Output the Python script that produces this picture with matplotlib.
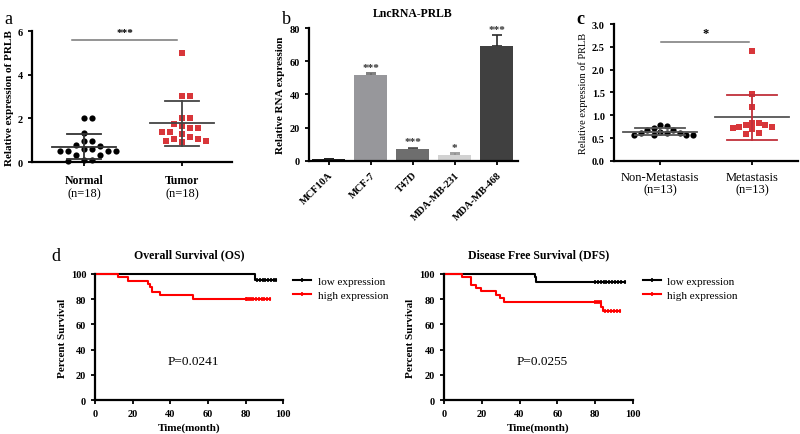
import numpy as np
import matplotlib
matplotlib.use("Agg")
import matplotlib.pyplot as plt
from matplotlib.lines import Line2D

plt.rcParams['font.family'] = ['Liberation Serif', 'DejaVu Serif']

# --- donnees panneau a ---
normal_vals = [2.0, 2.0, 1.35, 0.97, 0.97, 0.78, 0.74, 0.58, 0.58, 0.51, 0.51, 0.51, 0.51,
               0.32, 0.32, 0.08, 0.05, 0.08]
tumor_vals = [5.0, 3.04, 3.04, 2.04, 2.04, 1.74, 1.58, 1.58, 1.65, 1.4, 1.4, 1.27, 1.17,
              1.07, 1.07, 0.97, 0.97, 0.9]
groups_a = ["Normal", "Tumor"]
n_a = ["(n=18)", "(n=18)"]

# --- donnees panneau b ---
cell_lines = ["MCF10A", "MCF-7", "T47D", "MDA-MB-231", "MDA-MB-468"]
rna_expr = [1.0, 51.5, 7.0, 3.3, 69.5]
rna_err = [0.3, 1.3, 0.9, 1.5, 6.3]
rna_sig = ["", "***", "***", "*", "***"]

# --- donnees panneau c ---
nonmet_vals = [0.68, 0.60, 0.60, 0.56, 0.56, 0.56, 0.56, 0.60, 0.64, 0.68, 0.77, 0.72, 0.79]
met_vals = [2.41, 1.46, 1.17, 0.84, 0.78, 0.75, 0.69, 0.73, 0.59, 0.60, 0.75, 0.78, 0.84]
groups_c = ["Non-Metastasis", "Metastasis"]
n_c = ["(n=13)", "(n=13)"]

# --- donnees panneau d (Kaplan-Meier, marches) ---
os_low_t = [0, 85, 96]
os_low_s = [100, 95.5, 95.5]
os_low_cens = [86, 87.5, 89, 90.5, 92, 93.5, 95, 96]
os_high_t = [0, 12, 17.5, 28, 29.2, 30, 34.5, 52, 93]
os_high_s = [100, 97.9, 94.4, 92, 89.5, 86, 83.3, 80, 80]
os_high_cens = [80, 81, 82, 83, 84, 85.5, 87, 88.5, 90, 91.5, 93]
dfs_low_t = [0, 48, 48.9, 96]
dfs_low_s = [100, 97.3, 93.9, 93.9]
dfs_low_cens = [80, 81.5, 83, 84.5, 86, 87.5, 89, 90.5, 92, 93.5, 96]
dfs_high_t = [0, 9.7, 14.5, 16.8, 19.4, 27.7, 29.8, 32, 83.3, 84, 93]
dfs_high_s = [100, 97.3, 91.5, 88.9, 86.2, 83.5, 80.6, 77.5, 74, 71, 71]
dfs_high_cens = [80, 81, 82, 83, 85.5, 87, 88.5, 90, 91.5, 93]
p_os = "P=0.0241"
p_dfs = "P=0.0255"

RED = '#d8363a'
fig = plt.figure(figsize=(8, 4.35), dpi=100)


def style_axes(ax, lw=1.6):
    for s in ['top', 'right']:
        ax.spines[s].set_visible(False)
    for s in ['left', 'bottom']:
        ax.spines[s].set_linewidth(lw)
    ax.tick_params(width=1.3, length=3, labelsize=7.5)
    for lab in ax.get_yticklabels():
        lab.set_fontweight('bold')


def swarm(vals, ax, d_px=8.0):
    # disposition en essaim simple : decalages horizontaux sans chevauchement
    x0, y0 = ax.transData.transform((0, 0))
    x1, y1 = ax.transData.transform((1, 1))
    ppx, ppy = x1 - x0, y1 - y0
    order = np.argsort(vals)[::-1]
    offs = np.zeros(len(vals))
    placed = []
    for i in order:
        yp = vals[i] * ppy
        k = 0
        while True:
            c = ((k + 1) // 2) * (1 if k % 2 else -1) * d_px * 0.5
            if all((c - px) ** 2 + (yp - py) ** 2 >= d_px ** 2 for px, py in placed):
                break
            k += 1
        placed.append((c, yp))
        offs[i] = c / ppx
    return offs


def dot_plot(ax, data, markers, colors, err_colors, sd_colors, mean_w=0.33, cap_w=0.17,
             d_px=8.0):
    for i, vals in enumerate(data):
        vals = np.array(vals)
        offs = swarm(vals, ax, d_px)
        ax.scatter(i + offs, vals, marker=markers[i], s=20, color=colors[i], zorder=3,
                   linewidths=0, clip_on=False)
        m, sd = vals.mean(), vals.std(ddof=1)
        ax.plot([i - mean_w, i + mean_w], [m, m], color=err_colors[i], lw=1.3, zorder=4)
        ax.plot([i, i], [m - sd, m + sd], color=sd_colors[i], lw=1.3, zorder=4)
        for v in (m - sd, m + sd):
            ax.plot([i - cap_w, i + cap_w], [v, v], color=sd_colors[i], lw=1.3, zorder=4)


# ---------- panneau a ----------
ax_a = fig.add_axes([0.04, 0.625, 0.25, 0.301])
ax_a.set_xlim(-0.53, 1.51)
ax_a.set_ylim(0, 6)
ax_a.set_yticks([0, 2, 4, 6])
ax_a.set_xticks([0, 1])
ax_a.set_xticklabels([])
style_axes(ax_a)
dot_plot(ax_a, [normal_vals, tumor_vals], ['o', 's'], ['black', RED],
         ['#333333', '#444444'], ['#333333', '#444444'])
ax_a.plot([-0.12, 0.95], [5.6, 5.6], color='#777777', lw=1.1, clip_on=False)
ax_a.text(0.42, 5.75, "***", ha='center', va='bottom', fontsize=8, fontweight='bold')
ax_a.set_ylabel("Relative expression of PRLB", fontsize=8, fontweight='bold', labelpad=3)
for i in range(2):
    ax_a.text(i, -0.55, groups_a[i], ha='center', va='top', fontsize=8.5, fontweight='bold')
    ax_a.text(i, -1.15, n_a[i], ha='center', va='top', fontsize=9)
fig.text(0.006, 0.975, "a", fontsize=13, va='top')

# ---------- panneau b ----------
ax_b = fig.add_axes([0.386, 0.628, 0.261, 0.305])
bar_colors = ['#1e1e1e', '#97979b', '#6e6e6e', '#d2d2d2', '#404040']
bar_err_colors = ['#1e1e1e', '#6a6a6a', '#4a4a4a', '#909090', '#2a2a2a']
x_b = np.arange(len(cell_lines))
ax_b.bar(x_b, rna_expr, width=0.79, color=bar_colors, zorder=2)
for i in range(len(cell_lines)):
    ax_b.errorbar(x_b[i], rna_expr[i], yerr=[[0], [rna_err[i]]], color=bar_err_colors[i],
                  capsize=3.5, elinewidth=1.2, capthick=1.2, zorder=1)
    if rna_sig[i]:
        ax_b.text(x_b[i], rna_expr[i] + rna_err[i] + 0.8, rna_sig[i], ha='center',
                  va='bottom', fontsize=8, fontweight='bold', color='#333333')
ax_b.set_xlim(-0.47, 4.5)
ax_b.set_ylim(0, 80)
ax_b.set_yticks([0, 20, 40, 60, 80])
ax_b.set_xticks(x_b)
ax_b.set_xticklabels(cell_lines, rotation=45, ha='right', rotation_mode='anchor',
                     fontsize=7, fontweight='bold')
style_axes(ax_b)
ax_b.set_ylabel("Relative RNA expression", fontsize=8, fontweight='bold', labelpad=3)
ax_b.set_title("LncRNA-PRLB", fontsize=8.5, fontweight='bold', pad=9)
fig.text(0.352, 0.975, "b", fontsize=13, va='top')

# ---------- panneau c ----------
ax_c = fig.add_axes([0.7675, 0.628, 0.23, 0.3145])
ax_c.set_xlim(-0.5, 1.5)
ax_c.set_ylim(0, 3.0)
ax_c.set_yticks(np.arange(0, 3.01, 0.5))
ax_c.set_yticklabels([f"{v:.1f}" for v in np.arange(0, 3.01, 0.5)])
ax_c.set_xticks([0, 1])
ax_c.set_xticklabels([])
style_axes(ax_c)
dot_plot(ax_c, [nonmet_vals, met_vals], ['o', 's'], ['black', RED],
         ['#555555', '#555555'], ['#555555', '#c0303a'], mean_w=0.4, cap_w=0.27,
         d_px=6.5)
ax_c.plot([0.01, 0.97], [2.61, 2.61], color='#777777', lw=1.1, clip_on=False)
ax_c.text(0.5, 2.68, "*", ha='center', va='bottom', fontsize=9, fontweight='bold')
ax_c.set_ylabel("Relative expression of PRLB", fontsize=7.5, labelpad=3)
for i in range(2):
    ax_c.text(i, -0.22, groups_c[i], ha='center', va='top', fontsize=9)
    ax_c.text(i, -0.5, n_c[i], ha='center', va='top', fontsize=9)
fig.text(0.72, 0.975, "c", fontsize=13, va='top', fontweight='bold')


# ---------- panneau d ----------
def surv_at(t_arr, s_arr, t):
    idx = np.searchsorted(t_arr, t, side='right') - 1
    return np.array(s_arr)[idx]


def km_panel(ax, curves, title, ptext):
    for t_arr, s_arr, cens, col in curves:
        ax.step(t_arr, s_arr, where='post', color=col, lw=1.5, clip_on=False)
        ax.plot(cens, surv_at(t_arr, s_arr, cens), '|', color=col, ms=2.5, mew=1.2,
                clip_on=False)
    ax.set_xlim(0, 100)
    ax.set_ylim(0, 100)
    ax.set_xticks(np.arange(0, 101, 20))
    ax.set_yticks(np.arange(0, 101, 20))
    style_axes(ax)
    for lab in ax.get_xticklabels():
        lab.set_fontweight('bold')
    ax.set_xlabel("Time(month)", fontsize=8, fontweight='bold', labelpad=3)
    ax.set_ylabel("Percent Survival", fontsize=8, fontweight='bold', labelpad=3)
    ax.set_title(title, fontsize=8.5, fontweight='bold', pad=12)
    ax.text(38.5, 31, ptext, fontsize=9.5, va='center')
    handles = [Line2D([], [], color='black', lw=1.5, marker='|', ms=3, mew=1.2),
               Line2D([], [], color='red', lw=1.5, marker='|', ms=3, mew=1.2)]
    ax.legend(handles, ["low expression", "high expression"], loc='upper left',
              bbox_to_anchor=(1.0, 1.06), frameon=False, fontsize=8, numpoints=1,
              handlelength=1.6, handletextpad=0.6, labelspacing=0.4)


ax_d1 = fig.add_axes([0.119, 0.078, 0.235, 0.29])
km_panel(ax_d1, [(os_low_t, os_low_s, os_low_cens, 'black'),
                 (os_high_t, os_high_s, os_high_cens, 'red')],
         "Overall Survival (OS)", p_os)
ax_d2 = fig.add_axes([0.555, 0.078, 0.236, 0.29])
km_panel(ax_d2, [(dfs_low_t, dfs_low_s, dfs_low_cens, 'black'),
                 (dfs_high_t, dfs_high_s, dfs_high_cens, 'red')],
         "Disease Free Survival (DFS)", p_dfs)
fig.text(0.064, 0.43, "d", fontsize=13, va='top')

fig.savefig("out.png", dpi=100)
